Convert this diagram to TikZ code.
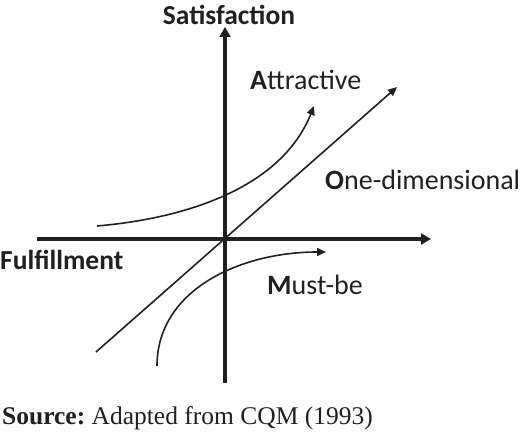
\documentclass[tikz,border=0pt]{standalone}
\usepackage{fontspec}
\setmainfont{Liberation Serif}
\newfontfamily\kanofont{Carlito}
\usepackage{tikz}
\usetikzlibrary{arrows.meta,positioning}
\definecolor{KanoInk}{HTML}{231F20}
\frenchspacing

\begin{document}
\begin{tikzpicture}[
  x=1pt,y=-1pt,
  axis/.style={draw=KanoInk,line width=3.2pt,-{Triangle[length=10pt,width=11pt]}},
  curve/.style={draw=KanoInk,line width=1.6pt,-{Triangle[length=9pt,width=8pt]}},
  axlabel/.style={font=\kanofont\bfseries\fontsize{27.5}{30}\selectfont,text=KanoInk,inner sep=0pt},
  kind/.style={font=\kanofont\fontsize{28}{30}\selectfont,text=KanoInk,inner sep=0pt,anchor=west},
]
\useasboundingbox (0,0) rectangle (520,435);
\coordinate (origin) at (225,239);
\coordinate (ybot) at (225,383);
\coordinate (ytop) at (225,27);
\coordinate (xleft) at (37,239);
\coordinate (xright) at (431,239);
\coordinate (onestart) at (96,352);
\coordinate (oneend) at (397,87);
\coordinate (attstart) at (97,226);
\coordinate (attend) at (314,106);
\coordinate (muststart) at (157,366);
\coordinate (mustend) at (326,252);
\draw[axis] (ybot) -- (ytop);
\draw[axis] (xleft) -- (xright);
\draw[curve] (onestart) -- (oneend);
\draw[curve] (attstart) .. controls (190,218) and (282,186) .. (attend);
\draw[curve] (muststart) .. controls (157,290) and (240,252) .. (mustend);
\node[axlabel] (sat) at (229,15) {Satisfaction};
\node[axlabel,anchor=west] (ful) at (0,260) {Fulfillment};
\node[kind] (att) at (250,80) {\textbf{A}ttractive};
\node[kind] (one) at (325,180) {\textbf{O}ne-dimensional};
\node[kind] (must) at (267,285) {\textbf{M}ust-be};
\node[font=\fontsize{25.5}{28}\selectfont,text=KanoInk,inner sep=0pt,anchor=west] (src) at (2,418) {\textbf{Source:} Adapted from CQM (1993)};
\end{tikzpicture}
\end{document}
